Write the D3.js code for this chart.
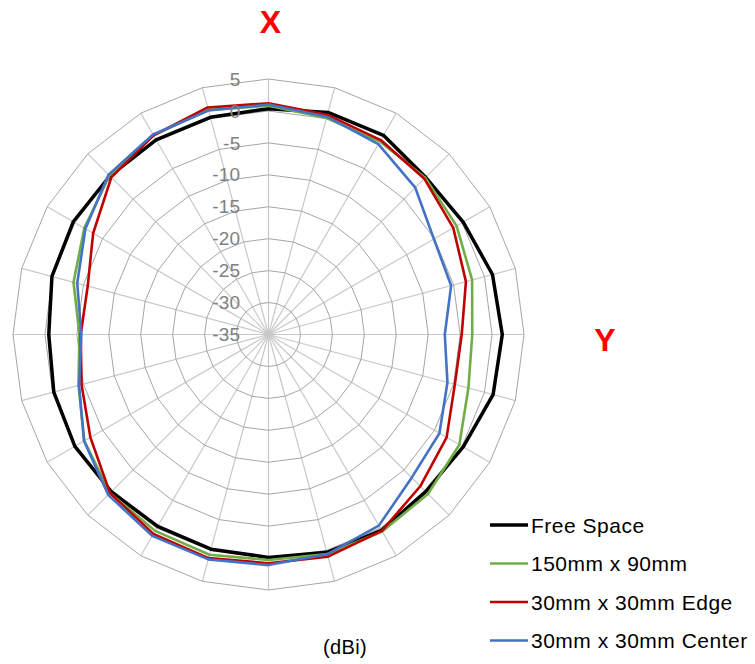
<!DOCTYPE html>
<html>
<head>
<meta charset="utf-8">
<script src="https://cdn.jsdelivr.net/npm/d3@7"></script>
<style>
  html, body { margin: 0; padding: 0; background: #ffffff; }
  svg { display: block; }
  text { font-family: "Liberation Sans", Arial, sans-serif; }
</style>
</head>
<body>
<svg id="chart" width="755" height="664"></svg>
<script>
// Categories: azimuth angles (degrees), clockwise from top
const angles = [0, 15, 30, 45, 60, 75, 90, 105, 120, 135, 150, 165,
                180, 195, 210, 225, 240, 255, 270, 285, 300, 315, 330, 345];

// Radial axis tick labels (dBi)
const ticks = [5, 0, -5, -10, -15, -20, -25, -30, -35];

const seriesNames = ["Free Space", "150mm x 90mm", "30mm x 30mm Edge", "30mm x 30mm Center"];

const freeSpace = [0.35, 1.0, 1.0, -0.2, 0.2, 1.3, 1.6, 1.4, 0.2, -0.2, 0.4, 0.3,
                   -0.1, -0.2, -0.3, -0.2, 0.0, -0.2, -0.6, 0.1, 0.3, 0.1, 0.2, 0.2];
const board150x90 = [0.8, 0.1, -0.1, -0.3, -1.0, -2.0, -3.1, -2.6, -0.5, 0.3, 0.6, 0.6,
                     0.3, 0.7, 0.5, 0.1, -1.7, -4.2, -5.4, -3.4, -1.7, 0.2, 1.0, 1.4];
const edge30x30 = [1.2, 0.6, 0.15, -0.5, -1.6, -3.0, -4.75, -4.8, -2.8, -1.4, 0.5, 1.0,
                   0.8, 1.25, 1.05, 0.1, -2.8, -4.7, -5.6, -5.7, -3.3, -0.2, 1.0, 1.8];
const center30x30 = [1.0, 0.3, -0.6, -2.5, -5.1, -5.4, -7.4, -6.0, -4.1, -3.3, -0.45, 0.6,
                     1.1, 1.45, 1.4, 0.5, -1.65, -4.3, -5.7, -4.0, -1.9, 0.4, 1.15, 1.3];

const seriesValues = [freeSpace, board150x90, edge30x30, center30x30];
const seriesColors = ["#000000", "#70ad47", "#c00000", "#4472c4"];
const seriesWidths = [3.5, 2.6, 2.6, 2.6];

const svg = d3.select("#chart");
const cx = 268.5, cy = 334.5, R = 255.5;

const r = d3.scaleLinear().domain([-35, 5]).range([0, R]);
const a = d3.scaleLinear().domain([0, 360]).range([0, 2 * Math.PI]);

const g = svg.append("g").attr("transform", `translate(${cx},${cy})`);

// Spokes
g.append("g").selectAll("line")
  .data(angles)
  .join("line")
  .attr("x1", 0).attr("y1", 0)
  .attr("x2", d => r(5) * Math.sin(a(d)))
  .attr("y2", d => -r(5) * Math.cos(a(d)))
  .attr("stroke", "#c8c8c8")
  .attr("stroke-width", 1.2);

// Rings (24-gon)
const ringLine = d3.lineRadial()
  .angle(d => a(d.ang))
  .radius(d => r(d.v))
  .curve(d3.curveLinearClosed);

g.append("g").selectAll("path")
  .data(ticks.filter(t => t > -35))
  .join("path")
  .attr("d", t => ringLine(angles.map(ang => ({ ang, v: t }))))
  .attr("fill", "none")
  .attr("stroke", "#a6a6a6")
  .attr("stroke-width", 1);

// Series
const seriesLine = d3.lineRadial()
  .angle((d, i) => a(angles[i]))
  .radius(d => r(d))
  .curve(d3.curveLinearClosed);

g.append("g").selectAll("path")
  .data(seriesValues)
  .join("path")
  .attr("d", d => seriesLine(d))
  .attr("fill", "none")
  .attr("stroke", (d, i) => seriesColors[i])
  .attr("stroke-width", (d, i) => seriesWidths[i])
  .attr("stroke-linejoin", "round");

// Radial tick labels
g.append("g").selectAll("text")
  .data(ticks)
  .join("text")
  .attr("x", 240.5 - cx)
  .attr("y", t => -r(t))
  .attr("dy", "0.35em")
  .attr("text-anchor", "end")
  .attr("font-size", 19)
  .attr("letter-spacing", 0.3)
  .attr("fill", "#808080")
  .text(t => t);

// Axis direction labels
svg.append("text")
  .attr("x", 270.5).attr("y", 33)
  .attr("text-anchor", "middle")
  .attr("font-size", 32).attr("font-weight", "bold")
  .attr("fill", "#ff0000")
  .text("X");

svg.append("text")
  .attr("x", 605).attr("y", 351)
  .attr("text-anchor", "middle")
  .attr("font-size", 32).attr("font-weight", "bold")
  .attr("fill", "#ff0000")
  .text("Y");

// Unit label
svg.append("text")
  .attr("x", 345).attr("y", 654)
  .attr("text-anchor", "middle")
  .attr("font-size", 20)
  .attr("letter-spacing", 0.4)
  .attr("fill", "#000000")
  .text("(dBi)");

// Legend
const legend = svg.append("g").attr("transform", "translate(490,525)");
const legendStep = 38.5;
const items = legend.selectAll("g")
  .data(seriesNames)
  .join("g")
  .attr("transform", (d, i) => `translate(0,${i * legendStep})`);

items.append("line")
  .attr("x1", 0).attr("x2", 38)
  .attr("y1", 0).attr("y2", 0)
  .attr("stroke", (d, i) => seriesColors[i])
  .attr("stroke-width", (d, i) => i === 0 ? 3.5 : 2.6);

items.append("text")
  .attr("x", 41)
  .attr("y", 0)
  .attr("dy", "0.36em")
  .attr("font-size", 21)
  .attr("letter-spacing", 0.5)
  .attr("fill", "#000000")
  .text(d => d);
</script>
</body>
</html>
